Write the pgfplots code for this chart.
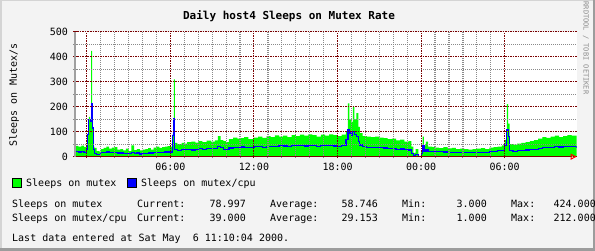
\documentclass[border=0pt]{standalone}
\usepackage{pgfplots}
\pgfplotsset{compat=1.18}
\usepackage{pgfplotstable}
\usetikzlibrary{arrows.meta}
\usepackage{fontspec}
\setmainfont{DejaVu Sans Mono}
\definecolor{bgc}{HTML}{F3F3F3}
\definecolor{majc}{HTML}{7A0000}
\definecolor{minc}{HTML}{8A8A8A}
\definecolor{txc}{HTML}{8C8C8C}
\definecolor{axc}{HTML}{A0A0A0}
\definecolor{grn}{HTML}{00FF00}
\definecolor{blu}{HTML}{0000FF}
\definecolor{brd}{HTML}{9C9C9C}
\definecolor{brl}{HTML}{D4D4D4}
\pgfplotstableread{
t g b
-0.85 43 20
-0.6 40 19
-0.4 44 20
-0.2 38 18
0.0 90 30
0.07 95 90
0.14 160 148
0.24 150 140
0.31 424 212
0.38 120 115
0.45 40 30
0.55 35 12
0.7 22 10
0.9 20 10
1.0 30 18
1.2 35 17
1.4 40 19
1.6 32 17
1.8 36 18
2.0 38 17
2.2 28 15
2.4 30 15
2.6 25 14
2.8 32 13
3.0 22 12
3.2 45 18
3.4 26 13
3.6 30 15
3.8 25 11
4.0 28 13
4.2 30 14
4.4 34 15
4.6 28 15
4.8 36 16
5.0 40 18
5.2 35 17
5.4 38 18
5.6 40 19
5.8 42 19
6.0 40 19
6.15 88 84
6.25 310 152
6.32 55 28
6.5 50 26
6.8 55 28
7.0 52 28
7.2 58 29
7.5 60 27
7.8 56 30
8.0 62 32
8.3 58 30
8.6 64 33
8.9 60 32
9.2 65 34
9.4 82 42
9.6 66 38
9.8 62 30
10.0 58 28
10.2 70 35
10.5 76 38
10.8 72 37
11.0 74 39
11.3 78 38
11.6 70 37
12.0 76 40
12.3 80 41
12.6 75 38
12.9 82 42
13.2 78 40
13.5 85 42
13.8 80 44
14.1 84 43
14.4 78 41
14.7 86 44
15.0 82 45
15.3 88 44
15.6 84 43
15.9 90 45
16.2 86 44
16.5 80 42
16.8 88 44
17.1 84 45
17.4 90 44
17.7 86 43
18.0 82 42
18.3 88 44
18.6 100 68
18.75 214 110
18.85 150 95
19.0 140 85
19.1 200 100
19.2 150 90
19.35 175 82
19.5 120 60
19.6 95 47
19.8 82 40
20.1 80 38
20.4 78 37
20.7 80 37
21.0 76 36
21.3 74 35
21.6 70 33
21.9 72 34
22.2 65 30
22.5 68 31
22.8 60 28
23.1 62 27
23.3 40 12
23.45 15 5
23.6 30 8
23.8 3 1
24.0 25 12
24.1 80 44
24.2 45 22
24.35 60 30
24.5 40 20
24.8 38 20
25.0 36 20
25.3 34 20
25.6 38 19
25.9 33 18
26.2 35 18
26.5 30 17
26.8 32 17
27.1 30 17
27.4 28 16
27.7 30 18
28.0 32 17
28.3 34 18
28.6 30 18
28.9 36 20
29.2 38 22
29.5 40 24
29.8 45 24
30.0 67 47
30.15 211 107
30.25 133 80
30.35 50 24
30.6 48 22
30.9 52 24
31.2 55 26
31.5 58 27
31.8 62 28
32.1 66 30
32.4 72 34
32.7 78 36
33.0 75 38
33.3 80 38
33.6 84 40
33.9 78 39
34.2 82 41
34.5 86 42
34.8 84 40
35.17 79 39
}\data
\begin{document}
\begin{tikzpicture}[x=1pt,y=1pt]
\useasboundingbox (0,0) rectangle (595,251);
\fill[bgc] (0,0) rectangle (595,251);
\draw[brl,line width=1.5pt] (0.75,0) -- (0.75,250.25) -- (595,250.25);
\draw[brd,line width=2.5pt] (0,1.25) -- (593.75,1.25) -- (593.75,251);
\fill[white] (75,94.3) rectangle (576.7,219);
\begin{axis}[
  at={(75pt,94.3pt)}, anchor=south west,
  scale only axis, width=501.7pt, height=124.7pt,
  xmin=-0.85, xmax=35.17, ymin=0, ymax=500,
  xtick={0,6,12,18,24,30},
  xticklabels={,06:00,12:00,18:00,00:00,06:00},
  minor x tick num=5,
  ytick={0,100,200,300,400,500},
  minor y tick num=1,
  grid=both,
  axis on top,
  major grid style={majc, line width=1pt, dash pattern=on 1.5pt off 1pt},
  minor grid style={minc, line width=1.2pt, dash pattern=on 1pt off 1pt},
  axis x line=bottom, axis y line=left,
  x axis line style={majc, line width=1pt, -{Triangle[open,length=6pt,width=6pt,red]}},
  y axis line style={axc, line width=1.3pt, -},
  major tick style={majc, line width=1pt},
  minor tick style={minc, line width=1pt},
  major tick length=3pt, minor tick length=3pt,
  tick align=center,
  /pgf/number format/assume math mode=true,
  tick label style={font=\fontsize{10}{12}\selectfont, text=black},
  yticklabel style={xshift=-2pt},
  xticklabel style={yshift=-1pt},
  clip=true,
]
\addplot[const plot, fill=grn, draw=none] table[x=t,y=g]{\data} \closedcycle;
\addplot[const plot, blu, line width=1.2pt] table[x=t,y=b]{\data};
\end{axis}
\node[font=\fontsize{11}{12}\selectfont\bfseries, anchor=base] at (289,231) {Daily host4 Sleeps on Mutex Rate};
\node[font=\fontsize{10}{12}\selectfont, rotate=90, anchor=base] at (17,156) {Sleeps on Mutex/s};
\node[font=\fontsize{7}{8}\selectfont, rotate=-90, text=txc, anchor=base] at (583.5,203) {RRDTOOL / TOBI OETIKER};
% legend
\filldraw[fill=grn, draw=black, line width=0.6pt] (12.5,63.5) rectangle (21.5,72.5);
\node[font=\fontsize{10}{12}\selectfont, anchor=base west, inner sep=0pt] at (26,64) {Sleeps on mutex};
\filldraw[fill=blu, draw=black, line width=0.6pt] (127.5,63.5) rectangle (136.5,72.5);
\node[font=\fontsize{10}{12}\selectfont, anchor=base west, inner sep=0pt] at (141,64) {Sleeps on mutex/cpu};
% stats
\begin{scope}[every node/.style={font=\fontsize{10}{12}\selectfont, inner sep=0pt}]
\node[anchor=base west] at (12,43) {Sleeps on mutex};
\node[anchor=base west] at (137,43) {Current:};
\node[anchor=base east] at (246,43) {78.997};
\node[anchor=base west] at (270,43) {Average:};
\node[anchor=base east] at (378,43) {58.746};
\node[anchor=base west] at (402,43) {Min:};
\node[anchor=base east] at (487,43) {3.000};
\node[anchor=base west] at (511,43) {Max:};
\node[anchor=base east] at (596,43) {424.000};
\node[anchor=base west] at (12,29) {Sleeps on mutex/cpu};
\node[anchor=base west] at (137,29) {Current:};
\node[anchor=base east] at (246,29) {39.000};
\node[anchor=base west] at (270,29) {Average:};
\node[anchor=base east] at (378,29) {29.153};
\node[anchor=base west] at (402,29) {Min:};
\node[anchor=base east] at (487,29) {1.000};
\node[anchor=base west] at (511,29) {Max:};
\node[anchor=base east] at (596,29) {212.000};
\node[anchor=base west] at (12,9) {Last data entered at Sat May\ \ 6 11:10:04 2000.};
\end{scope}
\end{tikzpicture}
\end{document}
